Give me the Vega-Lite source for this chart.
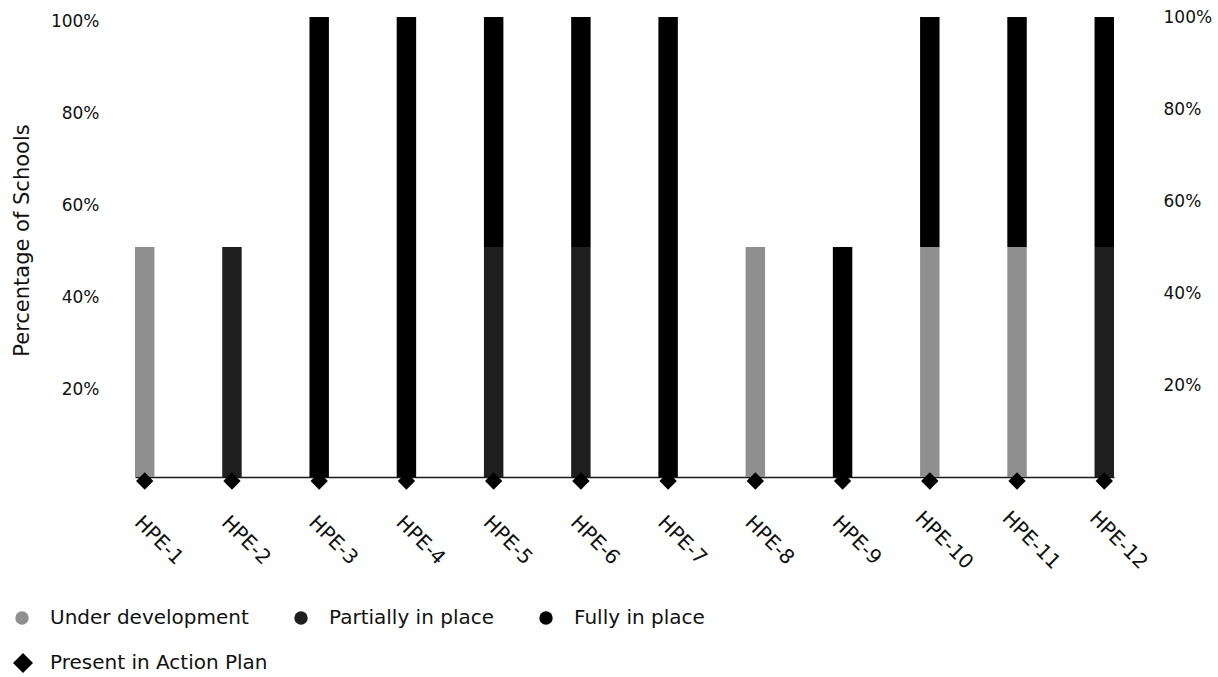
{
  "$schema": "https://vega.github.io/schema/vega-lite/v6.json",
  "width": 979,
  "height": 460,
  "autosize": {"type": "none"},
  "padding": {"left": 135, "top": 17, "right": 104, "bottom": 200},
  "background": "white",
  "config": {
    "view": {"stroke": null},
    "font": "DejaVu Sans",
    "axis": {"labelColor": "#111", "titleColor": "#111", "grid": false, "ticks": false, "tickSize": 0}
  },
  "datasets": {
    "status": [
      {"hpe": "HPE-1", "status": "Under development", "pct": 50},
      {"hpe": "HPE-2", "status": "Partially in place", "pct": 50},
      {"hpe": "HPE-3", "status": "Fully in place", "pct": 100},
      {"hpe": "HPE-4", "status": "Fully in place", "pct": 100},
      {"hpe": "HPE-5", "status": "Partially in place", "pct": 50},
      {"hpe": "HPE-5", "status": "Fully in place", "pct": 50},
      {"hpe": "HPE-6", "status": "Partially in place", "pct": 50},
      {"hpe": "HPE-6", "status": "Fully in place", "pct": 50},
      {"hpe": "HPE-7", "status": "Fully in place", "pct": 100},
      {"hpe": "HPE-8", "status": "Under development", "pct": 50},
      {"hpe": "HPE-9", "status": "Fully in place", "pct": 50},
      {"hpe": "HPE-10", "status": "Under development", "pct": 50},
      {"hpe": "HPE-10", "status": "Fully in place", "pct": 50},
      {"hpe": "HPE-11", "status": "Under development", "pct": 50},
      {"hpe": "HPE-11", "status": "Fully in place", "pct": 50},
      {"hpe": "HPE-12", "status": "Partially in place", "pct": 50},
      {"hpe": "HPE-12", "status": "Fully in place", "pct": 50}
    ],
    "plan": [
      {"hpe": "HPE-1", "plan": "Present in Action Plan"},
      {"hpe": "HPE-2", "plan": "Present in Action Plan"},
      {"hpe": "HPE-3", "plan": "Present in Action Plan"},
      {"hpe": "HPE-4", "plan": "Present in Action Plan"},
      {"hpe": "HPE-5", "plan": "Present in Action Plan"},
      {"hpe": "HPE-6", "plan": "Present in Action Plan"},
      {"hpe": "HPE-7", "plan": "Present in Action Plan"},
      {"hpe": "HPE-8", "plan": "Present in Action Plan"},
      {"hpe": "HPE-9", "plan": "Present in Action Plan"},
      {"hpe": "HPE-10", "plan": "Present in Action Plan"},
      {"hpe": "HPE-11", "plan": "Present in Action Plan"},
      {"hpe": "HPE-12", "plan": "Present in Action Plan"}
    ]
  },
  "encoding": {
    "x": {
      "field": "hpe",
      "type": "nominal",
      "scale": {
        "domain": ["HPE-1", "HPE-2", "HPE-3", "HPE-4", "HPE-5", "HPE-6", "HPE-7", "HPE-8", "HPE-9", "HPE-10", "HPE-11", "HPE-12"],
        "paddingInner": 0.777,
        "paddingOuter": 0
      },
      "axis": {
        "title": null,
        "labelAngle": 45,
        "labelAlign": "center",
        "labelBaseline": "middle",
        "labelOffset": 14,
        "labelPadding": 63,
        "labelFontSize": 20,
        "domain": true,
        "domainColor": "#1a1a1a",
        "domainWidth": 1.6
      }
    }
  },
  "layer": [
    {
      "data": {"name": "status"},
      "mark": {"type": "bar"},
      "encoding": {
        "y": {
          "field": "pct",
          "type": "quantitative",
          "stack": "zero",
          "scale": {"domain": [0, 100]},
          "axis": {
            "orient": "left",
            "values": [20, 40, 60, 80, 100],
            "labelExpr": "datum.value + '%'",
            "labelFontSize": 17,
            "labelPadding": 36,
            "labelOffset": 4,
            "domain": false,
            "title": "Percentage of Schools",
            "titleFontSize": 21,
            "titleFontWeight": "normal",
            "titleAngle": 270,
            "titleAlign": "center",
            "titleBaseline": "middle",
            "titleX": -113,
            "titleY": 223
          }
        },
        "color": {
          "field": "status",
          "type": "nominal",
          "scale": {
            "domain": ["Under development", "Partially in place", "Fully in place"],
            "range": ["#8f8f8f", "#1e1e1e", "#000000"]
          },
          "legend": {
            "title": null,
            "orient": "none",
            "direction": "horizontal",
            "columns": 3,
            "legendX": -123,
            "legendY": 591,
            "padding": 0,
            "symbolType": "circle",
            "symbolSize": 180,
            "symbolStrokeWidth": 0,
            "labelFontSize": 20,
            "labelColor": "#111",
            "labelLimit": 0,
            "labelOffset": 18,
            "columnPadding": 42
          }
        },
        "order": {"field": "status", "sort": "descending"}
      }
    },
    {
      "data": {"name": "plan"},
      "mark": {"type": "point", "filled": true, "color": "#000", "opacity": 1, "size": 300, "yOffset": 4},
      "encoding": {
        "y": {
          "datum": 0,
          "type": "quantitative",
          "scale": {"domain": [0, 100]},
          "axis": {
            "orient": "right",
            "values": [20, 40, 60, 80, 100],
            "labelExpr": "datum.value + '%'",
            "labelFontSize": 17,
            "labelPadding": 49,
            "labelAlign": "left",
            "domain": false,
            "title": null
          }
        },
        "shape": {
          "field": "plan",
          "type": "nominal",
          "scale": {"range": ["diamond"]},
          "legend": {
            "title": null,
            "orient": "none",
            "legendX": -122,
            "legendY": 636,
            "padding": 0,
            "symbolSize": 400,
            "symbolFillColor": "#000",
            "symbolStrokeWidth": 0,
            "labelFontSize": 20,
            "labelColor": "#111",
            "labelLimit": 0,
            "labelOffset": 17
          }
        }
      }
    }
  ],
  "resolve": {"scale": {"y": "independent"}}
}
